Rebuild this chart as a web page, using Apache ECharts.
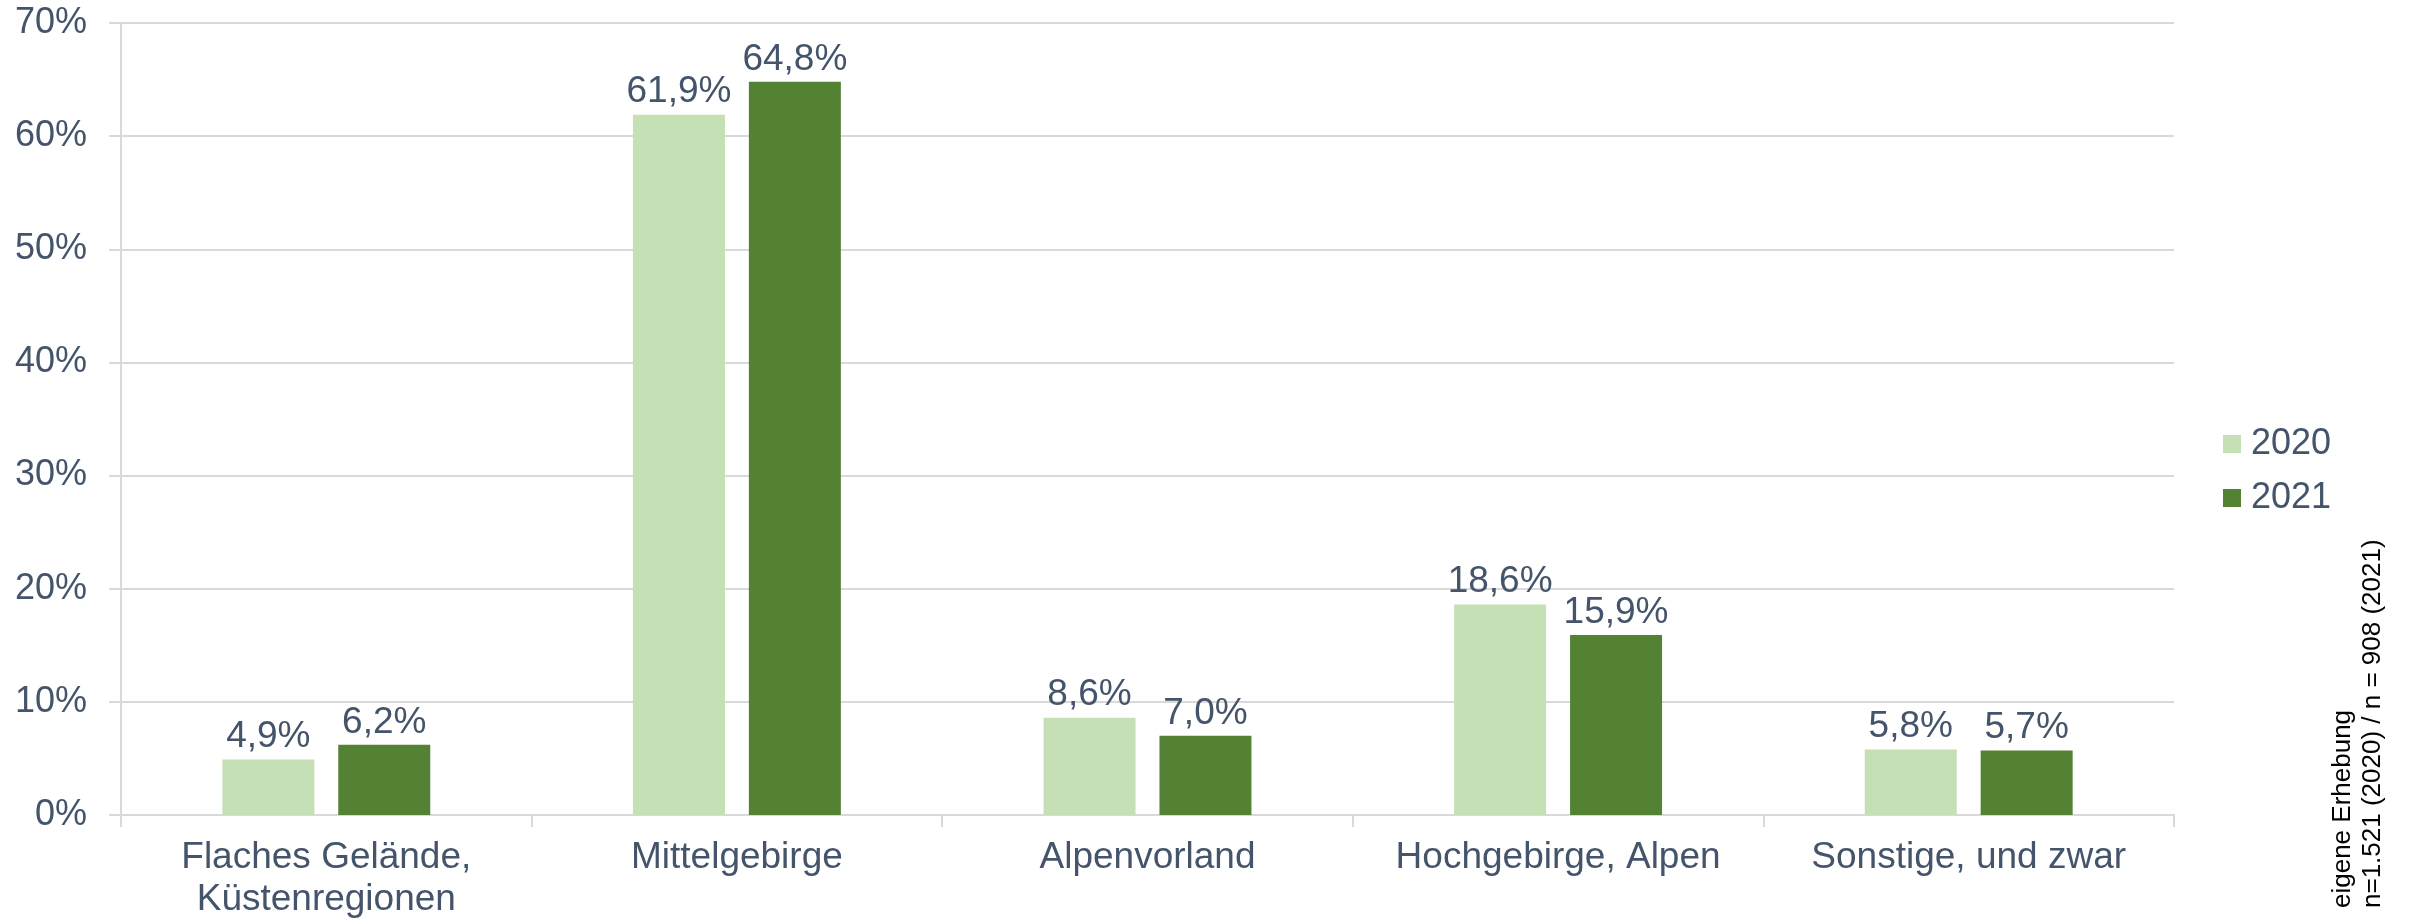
<!DOCTYPE html>
<html>
<head>
<meta charset="utf-8">
<title>Gelände</title>
<script src="https://cdn.jsdelivr.net/npm/echarts@6/dist/echarts.min.js"></script>
<style>
	html, body { margin: 0; padding: 0; background: #fff; }
	#myChart { width: 2410px; height: 924px; }
</style>
</head>
<body>
<div id="myChart"></div>
<script>
var categories = ['Flaches Gelände,\nKüstenregionen', 'Mittelgebirge', 'Alpenvorland', 'Hochgebirge, Alpen', 'Sonstige, und zwar'];
var years = ['2020', '2021'];
var values2020 = [4.9, 61.9, 8.6, 18.6, 5.8];
var values2021 = [6.2, 64.8, 7.0, 15.9, 5.7];
var yTicks = { min: 0, max: 70, interval: 10 };

var textColor = '#44546A';
var gridColor = '#D9D9D9';
var font = 'Liberation Sans';

function pct(p) {
	return p.value.toFixed(1).replace('.', ',') + '%';
}

function barSeries(name, data, color) {
	return {
		name: name,
		type: 'bar',
		data: data,
		barWidth: 92,
		barGap: '26%',
		itemStyle: { color: color },
		label: {
			show: true,
			position: 'top',
			distance: 4,
			formatter: pct,
			fontFamily: font,
			fontSize: 37,
			color: textColor
		}
	};
}

var option = {
	animation: false,
	textStyle: { fontFamily: font },
	grid: { left: 121, right: 236, top: 23, bottom: 109 },
	legend: {
		data: years,
		orient: 'vertical',
		left: 2218,
		top: 421,
		icon: 'rect',
		itemWidth: 18,
		itemHeight: 18,
		itemGap: 18,
		textStyle: { fontFamily: font, fontSize: 36, color: textColor, lineHeight: 36, padding: [0, 0, 0, 5] }
	},
	xAxis: {
		type: 'category',
		data: categories,
		axisLine: { lineStyle: { color: gridColor, width: 2 } },
		axisTick: { show: true, length: 12, lineStyle: { color: gridColor, width: 2 } },
		axisLabel: {
			margin: 22,
			fontFamily: font,
			fontSize: 37,
			lineHeight: 42,
			color: textColor,
			interval: 0
		}
	},
	yAxis: {
		type: 'value',
		min: yTicks.min,
		max: yTicks.max,
		interval: yTicks.interval,
		axisLine: { show: true, lineStyle: { color: gridColor, width: 2 } },
		axisTick: { show: true, length: 12, lineStyle: { color: gridColor, width: 2 } },
		splitLine: { lineStyle: { color: gridColor, width: 2 } },
		axisLabel: {
			formatter: '{value}%',
			margin: 34,
			fontFamily: font,
			fontSize: 36,
			color: textColor
		}
	},
	graphic: [{
		type: 'text',
		x: 2328,
		y: 908,
		rotation: Math.PI / 2,
		style: {
			text: 'eigene Erhebung\nn=1.521 (2020) / n = 908 (2021)',
			fontFamily: font,
			fontSize: 26,
			lineHeight: 30,
			fill: '#000',
			align: 'left',
			verticalAlign: 'top'
		}
	}],
	series: [
		barSeries(years[0], values2020, '#C5E0B4'),
		barSeries(years[1], values2021, '#548235')
	]
};

var myChart = echarts.init(document.getElementById('myChart'));
myChart.setOption(option);
</script>
</body>
</html>
